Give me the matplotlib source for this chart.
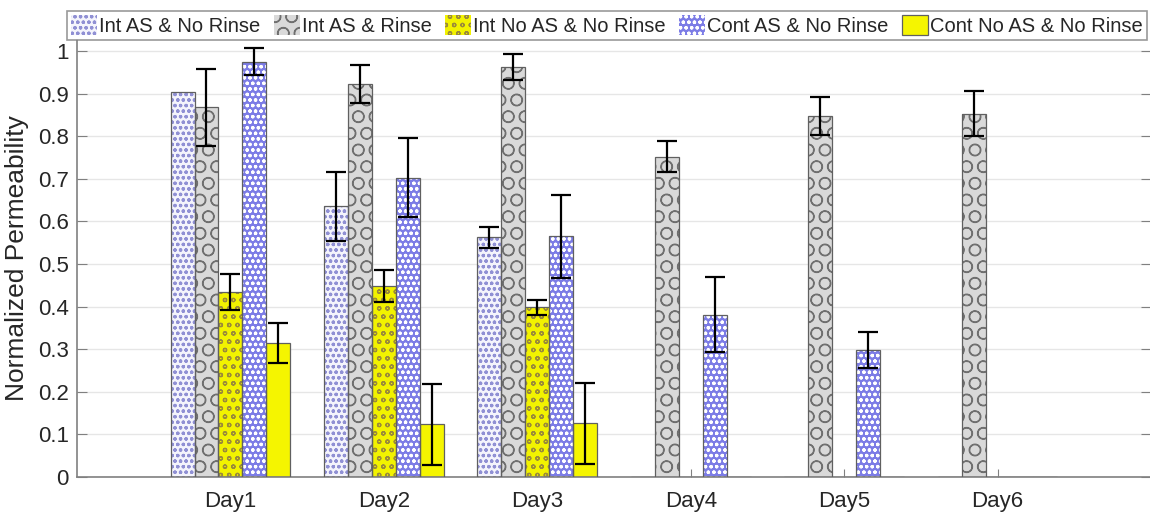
import numpy as np
import matplotlib
matplotlib.use("Agg")
import matplotlib.pyplot as plt
from matplotlib.patches import Patch
from matplotlib.ticker import FormatStrFormatter

plt.rcParams['font.family'] = ['Liberation Sans', 'DejaVu Sans']
plt.rcParams['hatch.linewidth'] = 0.9

days = ["Day1", "Day2", "Day3", "Day4", "Day5", "Day6"]
series = ["Int AS & No Rinse", "Int AS & Rinse", "Int No AS & No Rinse",
          "Cont AS & No Rinse", "Cont No AS & No Rinse"]

int_as_no_rinse = [0.903, 0.635, 0.563, 0, 0, 0]
int_as_no_rinse_err = [0, 0.080, 0.025, 0, 0, 0]
int_as_rinse = [0.868, 0.922, 0.962, 0.752, 0.848, 0.853]
int_as_rinse_err = [0.090, 0.045, 0.030, 0.036, 0.045, 0.053]
int_no_as = [0.435, 0.448, 0.398, 0, 0, 0]
int_no_as_err = [0.042, 0.037, 0.018, 0, 0, 0]
cont_as = [0.975, 0.703, 0.565, 0.381, 0.298, 0]
cont_as_err = [0.032, 0.093, 0.098, 0.088, 0.043, 0]
cont_no_as = [0.315, 0.124, 0.126, 0, 0, 0]
cont_no_as_err = [0.047, 0.095, 0.095, 0, 0, 0]

values = [int_as_no_rinse, int_as_rinse, int_no_as, cont_as, cont_no_as]
errors = [int_as_no_rinse_err, int_as_rinse_err, int_no_as_err, cont_as_err, cont_no_as_err]

# (face, hatch colour, hatch)
styles = [
    ("#f4f4fc", "#9090d4", "ooo"),
    ("#d9d9d9", "#6f6f6f", "O"),
    ("#f2f200", "#9a8a3a", "oo"),
    ("#7c7ce6", "#ffffff", "ooo"),
    ("#f5f500", "#f5f500", ""),
]
edge = "#606060"

fig = plt.figure(figsize=(11.5, 5.13), dpi=100)
ax = fig.add_axes([77 / 1150, 1 - 477 / 513, (1151 - 77) / 1150, (477 - 40) / 513])

x = np.arange(1, len(days) + 1)
w = 0.156
for i in range(5):
    pos = x + (i - 2) * w
    face, hcol, hatch = styles[i]
    ax.bar(pos, values[i], w, color=face, edgecolor=hcol, hatch=hatch, linewidth=0, zorder=2)
    ax.bar(pos, values[i], w, color="none", edgecolor=edge, linewidth=0.9, zorder=3)
    has = np.array(errors[i]) > 0
    ax.errorbar(pos[has], np.array(values[i])[has], yerr=np.array(errors[i])[has],
                fmt="none", ecolor="black", elinewidth=1.6, capsize=7, capthick=1.6, zorder=4)

ax.set_xlim(0, 7)
ax.set_ylim(0, (477 - 40) / 426)
ax.set_yticks(np.arange(0, 1.01, 0.1))
ax.yaxis.set_major_formatter(FormatStrFormatter('%g'))
ax.set_xticks(x)
ax.set_xticklabels(days)
ax.grid(axis="y", color="#e6e6e6", linewidth=1, zorder=0)
ax.set_axisbelow(True)
ax.tick_params(axis="y", direction="in", length=7, right=True, labelsize=16,
               color="#808080", labelcolor="#262626", pad=6)
ax.tick_params(axis="x", direction="in", length=6, labelsize=16,
               color="#808080", labelcolor="#262626", pad=10)
for s in ["left", "bottom"]:
    ax.spines[s].set_color("#808080")
    ax.spines[s].set_linewidth(1.2)
ax.spines["top"].set_visible(False)
ax.spines["right"].set_visible(False)
ax.set_ylabel("Normalized Permeability", fontsize=19, color="#262626", labelpad=6)

handles = [Patch(facecolor=st[0], edgecolor=st[1], hatch=st[2], linewidth=0) for st in styles]
handles[4] = Patch(facecolor=styles[4][0], edgecolor=edge, linewidth=0.9)
leg = fig.legend(handles, series, loc="lower left", ncol=5, mode="expand",
                 bbox_to_anchor=(67 / 1150, 1 - 40 / 513, (1147 - 67) / 1150, 32 / 513),
                 fontsize=14.5, frameon=True, fancybox=False, borderaxespad=0,
                 handlelength=1.3, handleheight=1.2, handletextpad=0.1,
                 columnspacing=0.6, borderpad=0.2)
leg.get_frame().set_edgecolor("#808080")
leg.get_frame().set_linewidth(1.2)
for t in leg.get_texts():
    t.set_color("#262626")

fig.savefig("out.png", dpi=100)
